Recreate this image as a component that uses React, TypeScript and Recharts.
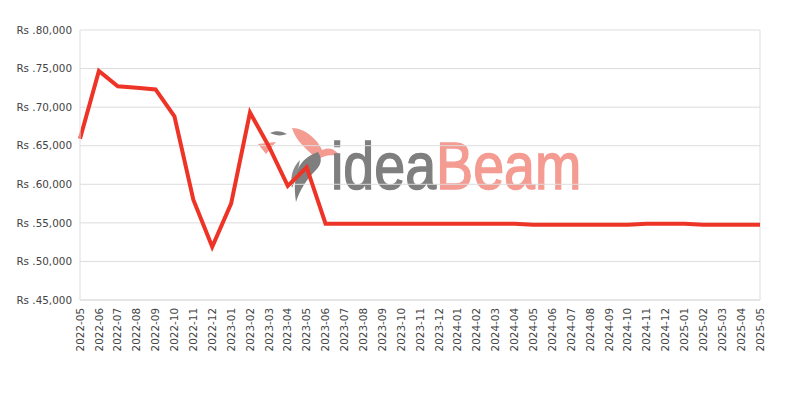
import {
  CartesianGrid,
  Line,
  LineChart,
  ReferenceLine,
  XAxis,
  YAxis,
} from "recharts";

const months = [
  "2022-05", "2022-06", "2022-07", "2022-08", "2022-09", "2022-10",
  "2022-11", "2022-12", "2023-01", "2023-02", "2023-03", "2023-04",
  "2023-05", "2023-06", "2023-07", "2023-08", "2023-09", "2023-10",
  "2023-11", "2023-12", "2024-01", "2024-02", "2024-03", "2024-04",
  "2024-05", "2024-06", "2024-07", "2024-08", "2024-09", "2024-10",
  "2024-11", "2024-12", "2025-01", "2025-02", "2025-03", "2025-04",
  "2025-05",
];

const prices = [
  65900, 74700, 72700, 72500, 72300, 68800,
  58000, 51900, 57500, 69300, 64900, 59800,
  62200, 54900, 54900, 54900, 54900, 54900,
  54900, 54900, 54900, 54900, 54900, 54900,
  54750, 54750, 54750, 54750, 54750, 54750,
  54900, 54900, 54900, 54750, 54750, 54750,
  54750,
];

const yTicks = [45000, 50000, 55000, 60000, 65000, 70000, 75000, 80000];

const data = months.map((month, i) => ({ month, price: prices[i] }));

const tickFont = "'DejaVu Sans', sans-serif";

function MonthTick({ x, y, payload }: any) {
  return (
    <g transform={`translate(${x},${y})`}>
      <text
        transform="rotate(-90)"
        x={0}
        y={0}
        dy="0.35em"
        textAnchor="end"
        fontSize={10.4}
        fontFamily={tickFont}
        fill="#444"
      >
        {payload.value}
      </text>
    </g>
  );
}

function Watermark() {
  return (
    <svg
      width={800}
      height={400}
      style={{ position: "absolute", left: 0, top: 0 }}
    >
      {/* bird */}
      <path d="M292 128 C305 128 318 140 322 150 C330 146 336 150 340 156 C330 154 322 156 318 160 C308 150 296 142 292 128 Z" fill="#f49b92" />
      <path d="M270 133 C276 130 282 131 287 134 C282 136 276 136 270 133 Z" fill="#7f7f7f" />
      <path d="M258 144 L276 142 L266 154 Z" fill="#f49b92" />
      <path d="M318 152 C306 156 298 164 296 176 C294 186 295 194 296 202 C300 190 306 180 316 170 C322 164 322 158 318 152 Z" fill="#7f7f7f" />
      <path d="M300 160 C292 168 290 178 292 188 C296 180 298 170 300 160 Z" fill="#8a8a8a" />
      <text
        x={331}
        y={189}
        fontSize={67}
        fontFamily="'Liberation Sans', sans-serif"
        stroke="currentColor"
        transform="translate(331,0) scale(0.83,1) translate(-331,0)"
      >
        <tspan fill="#7f7f7f" stroke="#7f7f7f" strokeWidth={1.5}>idea</tspan>
        <tspan fill="#f49b92" stroke="#f49b92" strokeWidth={1.5}>Beam</tspan>
      </text>
    </svg>
  );
}

export default function App() {
  return (
    <div style={{ position: "absolute", left: 0, top: 0, width: 800, height: 400 }}>
      <Watermark />
      <div style={{ position: "absolute", left: 0, top: 0 }}>
        <LineChart
          width={800}
          height={400}
          data={data}
          margin={{ top: 30, right: 40, bottom: 0, left: 0 }}
        >
          <CartesianGrid stroke="#dddddd" vertical={false} />
          <XAxis
            dataKey="month"
            interval={0}
            height={100}
            axisLine={{ stroke: "#dddddd" }}
            tickLine={false}
            tick={<MonthTick />}
          />
          <YAxis
            domain={[45000, 80000]}
            ticks={yTicks}
            width={80}
            axisLine={{ stroke: "#dddddd" }}
            tickLine={false}
            tickFormatter={(v: number) => `Rs .${v.toLocaleString("en-US")}`}
            tick={{ fontSize: 10.4, fontFamily: tickFont, fill: "#444" }}
          />
          <ReferenceLine x="2025-05" stroke="#dddddd" />
          <Line
            type="linear"
            dataKey="price"
            stroke="#ee3427"
            strokeWidth={4}
            dot={false}
            isAnimationActive={false}
          />
        </LineChart>
      </div>
    </div>
  );
}
